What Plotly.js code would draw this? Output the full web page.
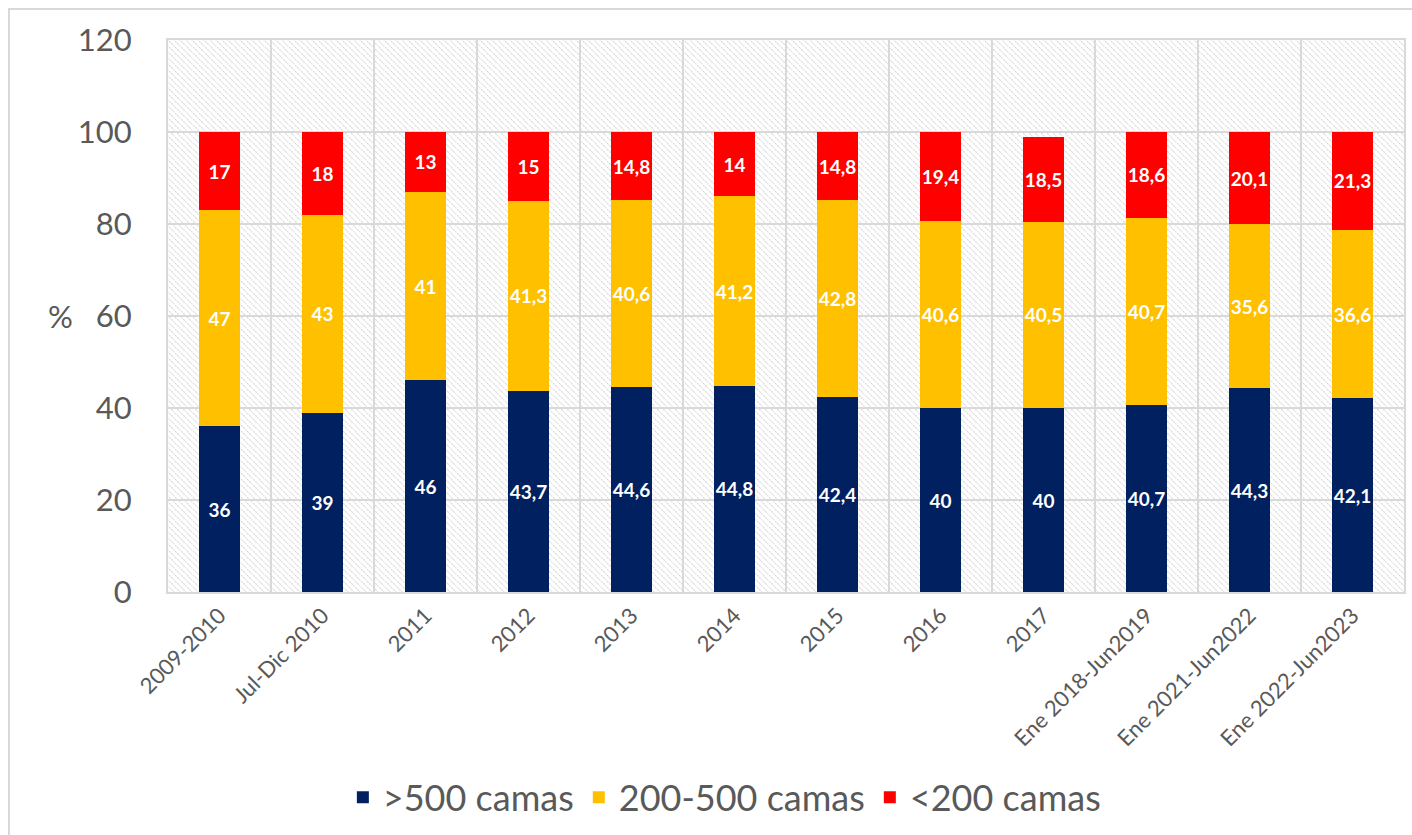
<!DOCTYPE html>
<html>
<head>
<meta charset="utf-8">
<script src="https://cdn.plot.ly/plotly-3.0.1.min.js"></script>
<style>
  body { margin: 0; background: #fff; }
  #grafico { position: absolute; left: 0; top: 0; width: 1412px; height: 835px; }
  /* marco gris del gráfico original (solo se ve arriba e izquierda) */
  #marco { position: absolute; left: 8px; top: 8px; width: 1420px; height: 840px;
           border-left: 2px solid #d9d9d9; border-top: 2px solid #d9d9d9; pointer-events: none; }
</style>
</head>
<body>
<div id="grafico"></div>
<div id="marco"></div>
<script>
// Periodos
const periodos = ['2009-2010', 'Jul-Dic 2010', '2011', '2012', '2013', '2014', '2015',
                  '2016', '2017', 'Ene 2018-Jun2019', 'Ene 2021-Jun2022', 'Ene 2022-Jun2023'];

// Porcentaje por tamaño de hospital
const mas500 = [36, 39, 46, 43.7, 44.6, 44.8, 42.4, 40, 40, 40.7, 44.3, 42.1];
const entre200y500 = [47, 43, 41, 41.3, 40.6, 41.2, 42.8, 40.6, 40.5, 40.7, 35.6, 36.6];
const menos200 = [17, 18, 13, 15, 14.8, 14, 14.8, 19.4, 18.5, 18.6, 20.1, 21.3];

// etiquetas con coma decimal
const etiqueta = v => String(v).replace('.', ',');

const fuente = 'Lato, "DejaVu Sans", sans-serif';
const gris = '#595959';

function serie(nombre, valores, color) {
    return {
        type: 'bar',
        name: nombre,
        x: periodos,
        y: valores,
        marker: { color: color },
        text: valores.map(etiqueta),
        textposition: 'inside',
        insidetextanchor: 'middle',
        textangle: 0,
        constraintext: 'none',
        textfont: { color: '#ffffff', size: 19, family: fuente, weight: 'bold' },
        hoverinfo: 'x+y'
    };
}

const trazas = [
    serie('>500 camas', mas500, '#002060'),
    serie('200-500 camas', entre200y500, '#FFC000'),
    serie('<200 camas', menos200, '#FF0000')
];

// fondo rayado del área de trazado (patrón diagonal)
const anchoPlot = 1236, altoPlot = 552;
const svgRayas =
    '<svg xmlns="http://www.w3.org/2000/svg" width="' + anchoPlot + '" height="' + altoPlot + '">' +
    '<defs><pattern id="p" patternUnits="userSpaceOnUse" width="6" height="6">' +
    '<path d="M-1,-1 L7,7 M-1,5 L1,7 M5,-1 L7,1" stroke="#d6d6d6" stroke-width="1.1" stroke-dasharray="2,1"/>' +
    '</pattern></defs>' +
    '<rect width="100%" height="100%" fill="#ffffff"/>' +
    '<rect width="100%" height="100%" fill="url(#p)"/></svg>';

const layout = {
    width: 1412,
    height: 835,
    barmode: 'stack',
    bargap: 0.6,
    margin: { l: 168, r: 8, t: 40, b: 243 },
    paper_bgcolor: '#ffffff',
    plot_bgcolor: 'rgba(0,0,0,0)',
    font: { family: fuente, color: gris },
    separators: ',.',
    images: [{
        source: 'data:image/svg+xml;charset=utf-8,' + encodeURIComponent(svgRayas),
        xref: 'paper', yref: 'paper',
        x: 0, y: 1, sizex: 1, sizey: 1,
        xanchor: 'left', yanchor: 'top',
        sizing: 'stretch',
        layer: 'below'
    }],
    xaxis: {
        type: 'category',
        tickson: 'boundaries',
        showgrid: true,
        gridcolor: '#d9d9d9',
        gridwidth: 2,
        showline: true,
        linecolor: '#d9d9d9',
        linewidth: 2,
        mirror: true,
        ticks: '',
        tickangle: -45,
        tickfont: { size: 22, color: gris, family: fuente }
    },
    yaxis: {
        range: [0, 120],
        dtick: 20,
        showgrid: true,
        gridcolor: '#d9d9d9',
        gridwidth: 2,
        zeroline: false,
        showline: true,
        linecolor: '#d9d9d9',
        linewidth: 2,
        mirror: true,
        ticks: '',
        ticklabelstandoff: 28,
        tickfont: { size: 31, color: gris, family: fuente }
    },
    // título del eje Y horizontal, como en el original
    annotations: [{
        text: '%',
        xref: 'paper', yref: 'paper',
        x: -0.087, y: 0.5,
        xanchor: 'center', yanchor: 'middle',
        showarrow: false,
        font: { size: 31, color: gris, family: fuente }
    }],
    legend: {
        orientation: 'h',
        xref: 'container', yref: 'container',
        x: 0.513, y: 0.045,
        xanchor: 'center', yanchor: 'middle',
        font: { size: 36, color: gris, family: fuente },
        itemwidth: 30,
        traceorder: 'normal'
    },
    showlegend: true
};

Plotly.newPlot('grafico', trazas, layout, { displayModeBar: false });
</script>
</body>
</html>
